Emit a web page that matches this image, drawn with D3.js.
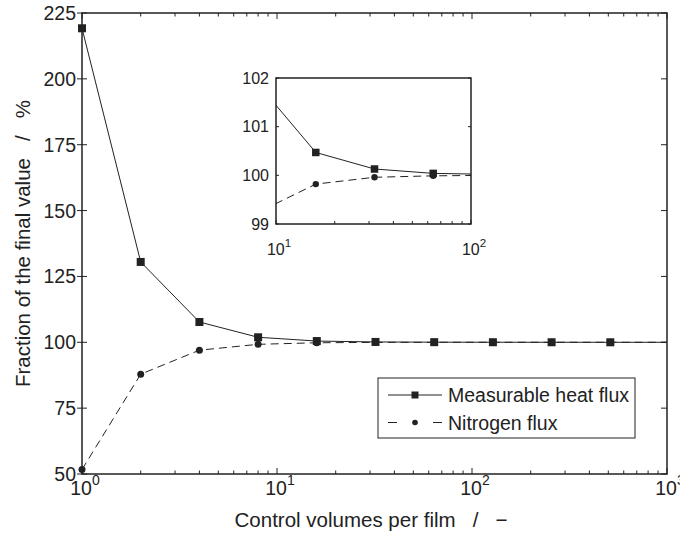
<!DOCTYPE html>
<html>
<head>
<meta charset="utf-8">
<script src="https://cdn.jsdelivr.net/npm/d3@7"></script>
<style>
  html, body { margin: 0; padding: 0; background: #fff; }
  svg { display: block; }
  text { font-family: "Liberation Sans", Arial, Helvetica, sans-serif; fill: #222; }
</style>
</head>
<body>
<svg id="chart" width="680" height="533"></svg>
<script>
// ---- data ----
const controlVolumes = [1, 2, 4, 8, 16, 32, 64, 128, 256, 512, 1024];
const heatFlux      = [219.2, 130.5, 107.7, 101.9, 100.47, 100.13, 100.04, 100.02, 100.01, 100.0, 100.0];
const nitrogenFlux  = [51.7, 87.9, 97.0, 99.23, 99.82, 99.96, 99.99, 100.0, 100.0, 100.0, 100.0];
const mainYTicks = [50, 75, 100, 125, 150, 175, 200, 225];
const mainXTicks = [1, 10, 100, 1000];
const insetYTicks = [99, 100, 101, 102];
const insetXTicks = [10, 100];
const seriesNames = ["Measurable heat flux", "Nitrogen flux"];
const xLabel = "Control volumes per film\u00a0\u00a0\u00a0/\u00a0\u00a0\u00a0\u2212";
const yLabel = "Fraction of the final value\u00a0\u00a0\u00a0/\u00a0\u00a0\u00a0%";

const svg = d3.select("#chart");
const ink = "#222";

const heatData = controlVolumes.map((x, i) => ({x, y: heatFlux[i]}));
const nitroData = controlVolumes.map((x, i) => ({x, y: nitrogenFlux[i]}));

function minorLogTicks(lo, hi) {
  const out = [];
  for (let d = lo; d < hi; d *= 10) for (let k = 2; k <= 9; k++) out.push(d * k);
  return out;
}

function drawPanel(opt) {
  const {left, top, right, bottom, xDomain, yDomain, yTicks, xTicks, id,
         fontSize, supSize, xLabelY, yLabelGap, sqSize, circR,
         leftTickOut, leftTickIn, rightTickIn, topTicks, majorLen, minorLen, supDy} = opt;
  const x = d3.scaleLog().domain(xDomain).range([left, right]);
  const y = d3.scaleLinear().domain(yDomain).range([bottom, top]);
  const g = svg.append("g");

  g.append("rect").attr("x", left).attr("y", top).attr("width", right - left).attr("height", bottom - top)
    .attr("fill", "#fff");

  svg.append("clipPath").attr("id", id).append("rect")
    .attr("x", left).attr("y", top).attr("width", right - left).attr("height", bottom - top);

  const line = d3.line().x(d => x(d.x)).y(d => y(d.y));
  const plot = g.append("g").attr("clip-path", `url(#${id})`);
  plot.append("path").datum(heatData).attr("d", line)
    .attr("fill", "none").attr("stroke", ink).attr("stroke-width", 1);
  plot.append("path").datum(nitroData).attr("d", line)
    .attr("fill", "none").attr("stroke", ink).attr("stroke-width", 1).attr("stroke-dasharray", "8,5");

  const inDom = d => d.x >= xDomain[0] && d.x <= xDomain[1] && d.y >= yDomain[0] - 1e-9 && d.y <= yDomain[1];
  g.selectAll(null).data(nitroData.filter(inDom)).enter().append("circle")
    .attr("cx", d => x(d.x)).attr("cy", d => y(d.y)).attr("r", circR).attr("fill", ink);
  g.selectAll(null).data(heatData.filter(inDom)).enter().append("rect")
    .attr("x", d => x(d.x) - sqSize / 2).attr("y", d => y(d.y) - sqSize / 2)
    .attr("width", sqSize).attr("height", sqSize).attr("fill", ink);

  // ticks
  const tk = g.append("g").attr("stroke", ink).attr("stroke-width", 1);
  const majors = xTicks;
  const minors = minorLogTicks(xDomain[0], xDomain[1]);
  majors.forEach(v => {
    tk.append("line").attr("x1", x(v)).attr("x2", x(v)).attr("y1", bottom).attr("y2", bottom - majorLen);
    if (topTicks) tk.append("line").attr("x1", x(v)).attr("x2", x(v)).attr("y1", top).attr("y2", top + majorLen);
  });
  minors.forEach(v => {
    tk.append("line").attr("x1", x(v)).attr("x2", x(v)).attr("y1", bottom).attr("y2", bottom - minorLen);
    if (topTicks) tk.append("line").attr("x1", x(v)).attr("x2", x(v)).attr("y1", top).attr("y2", top + minorLen);
  });
  yTicks.forEach(v => {
    tk.append("line").attr("x1", left - leftTickOut).attr("x2", left + leftTickIn).attr("y1", y(v)).attr("y2", y(v));
    tk.append("line").attr("x1", right).attr("x2", right - rightTickIn).attr("y1", y(v)).attr("y2", y(v));
  });

  // frame
  g.append("rect").attr("x", left).attr("y", top).attr("width", right - left).attr("height", bottom - top)
    .attr("fill", "none").attr("stroke", ink).attr("stroke-width", 1.5);

  // y tick labels
  g.selectAll(null).data(yTicks).enter().append("text")
    .attr("x", left - yLabelGap).attr("y", d => y(d)).attr("dy", "0.36em")
    .attr("text-anchor", "end").style("font-size", fontSize + "px").text(d => d);

  // x tick labels (10^n)
  majors.forEach(v => {
    const t = g.append("text").attr("x", x(v) + 3).attr("y", xLabelY)
      .attr("text-anchor", "middle").style("font-size", (opt.xFont || fontSize) + "px");
    t.append("tspan").text("10");
    t.append("tspan").attr("dy", -supDy).style("font-size", supSize + "px").text(Math.round(Math.log10(v)));
  });
  return {x, y};
}

// main panel
drawPanel({
  id: "clipMain", left: 82, top: 13, right: 667, bottom: 474,
  xDomain: [1, 1000], yDomain: [50, 225], yTicks: mainYTicks, xTicks: mainXTicks,
  fontSize: 19.5, xFont: 19.5, supSize: 14, supDy: 10, xLabelY: 495, yLabelGap: 6,
  sqSize: 8, circR: 3.5, leftTickOut: 5, leftTickIn: 5, rightTickIn: 6, topTicks: true,
  majorLen: 6, minorLen: 3.5
});

// inset panel
drawPanel({
  id: "clipInset", left: 276, top: 78, right: 471, bottom: 224,
  xDomain: [10, 100], yDomain: [99, 102], yTicks: insetYTicks, xTicks: insetXTicks,
  fontSize: 16, xFont: 16, supSize: 11.5, supDy: 8, xLabelY: 255, yLabelGap: 7,
  sqSize: 7.5, circR: 3.2, leftTickOut: 0, leftTickIn: 3, rightTickIn: 3, topTicks: false,
  majorLen: 4, minorLen: 3
});

// axis titles
svg.append("text").attr("x", 371).attr("y", 527).attr("text-anchor", "middle")
  .style("font-size", "20.5px").text(xLabel);
svg.append("text").attr("transform", "translate(30,243.5) rotate(-90)").attr("text-anchor", "middle")
  .style("font-size", "20.5px").text(yLabel);

// legend
const lg = svg.append("g");
lg.append("rect").attr("x", 378).attr("y", 378).attr("width", 257).attr("height", 60)
  .attr("fill", "#fff").attr("stroke", ink).attr("stroke-width", 1);
const rows = [395, 422.5];
seriesNames.forEach((name, i) => {
  const yy = rows[i];
  const l = lg.append("line").attr("x1", 388).attr("x2", 442).attr("y1", yy).attr("y2", yy)
    .attr("stroke", ink).attr("stroke-width", 1);
  if (i === 1) {
    l.attr("stroke-dasharray", "9,36");
    lg.append("circle").attr("cx", 415).attr("cy", yy).attr("r", 2.8).attr("fill", ink);
  } else {
    lg.append("rect").attr("x", 415 - 3.5).attr("y", yy - 3.5).attr("width", 7).attr("height", 7).attr("fill", ink);
  }
  lg.append("text").attr("x", 448).attr("y", yy).attr("dy", "0.36em")
    .style("font-size", "19.5px").text(name);
});
</script>
</body>
</html>
